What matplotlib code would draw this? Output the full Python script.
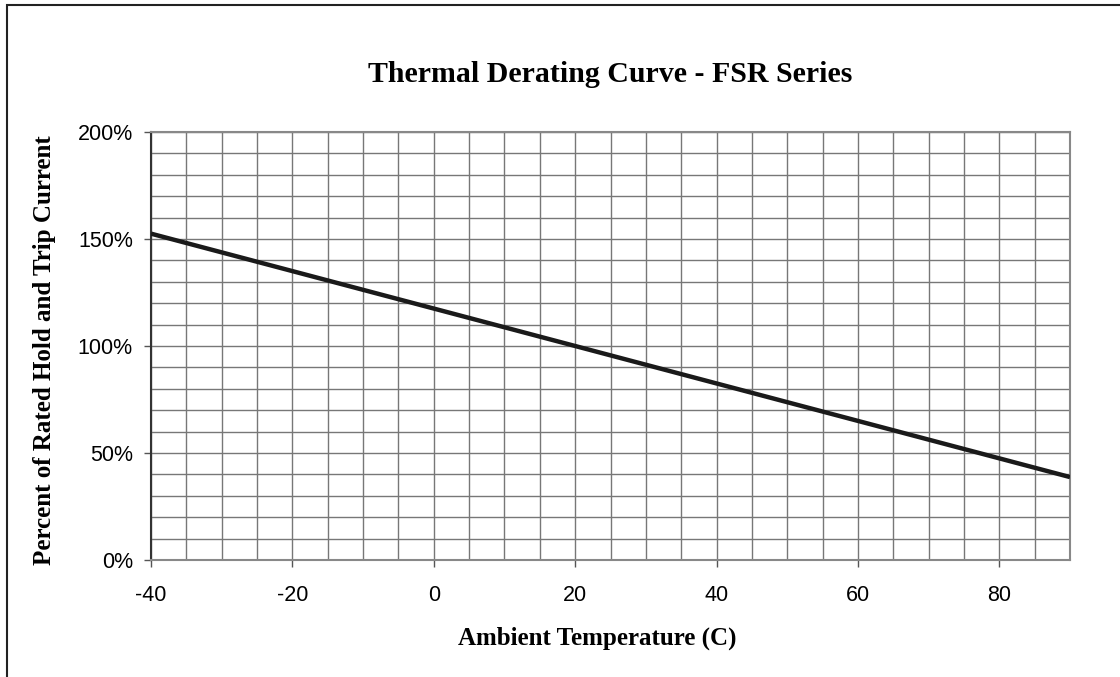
import matplotlib.pyplot as plt
from matplotlib.patches import Rectangle
from matplotlib.ticker import MultipleLocator, FuncFormatter

# derating curve values
temps   = [-40, -20, 0, 20, 40, 60, 80, 90]
percent = [152.5, 135, 117.5, 100, 82.5, 65, 47.5, 38.75]

xticks = [-40, -20, 0, 20, 40, 60, 80]
yticks = [0, 50, 100, 150, 200]

serif = ['Liberation Serif', 'DejaVu Serif']
sans  = ['Liberation Sans', 'DejaVu Sans']

fig = plt.figure(figsize=(11.2, 6.77), dpi=100)
ax  = fig.add_axes([151/1120, 1-560/677, (1070-151)/1120, (560-132)/677])

# outer frame of the chart
fig.patches.append(Rectangle((7/1120, -0.01), 1.05, 1-5/677+0.01, transform=fig.transFigure,
                             fill=False, edgecolor='#222222', linewidth=1.5))

ax.plot(temps, percent, color='#1a1a1a', linewidth=3.2, solid_capstyle='butt', zorder=3)

ax.set_xlim(-40, 90)
ax.set_ylim(0, 200)
ax.set_xticks(xticks)
ax.set_yticks(yticks)
ax.xaxis.set_minor_locator(MultipleLocator(5))
ax.yaxis.set_minor_locator(MultipleLocator(10))
ax.xaxis.set_major_formatter(FuncFormatter(lambda v, p: '%d' % v))
ax.yaxis.set_major_formatter(FuncFormatter(lambda v, p: '%d%%' % v))

ax.grid(True, which='both', color='#777777', linewidth=1.0)
ax.set_axisbelow(True)
ax.tick_params(which='major', direction='out', length=5, width=1, color='#555555',
               labelsize=15.5, pad=8)
ax.tick_params(which='minor', length=0)
for lbl in ax.get_xticklabels() + ax.get_yticklabels():
    lbl.set_family(sans)
ax.tick_params(axis='x', pad=13)

for s in ['top', 'right', 'bottom']:
    ax.spines[s].set_color('#888888')
    ax.spines[s].set_linewidth(1.5)
ax.spines['left'].set_color('#333333')
ax.spines['left'].set_linewidth(1.5)

fig.text(610/1120, 1-75/677, 'Thermal Derating Curve - FSR Series', ha='center', va='center',
         family=serif, fontweight='bold', fontsize=21.5)
fig.text(597/1120, 1-638/677, 'Ambient Temperature (C)', ha='center', va='center',
         family=serif, fontweight='bold', fontsize=18)
fig.text(45/1120, 1-350/677, 'Percent of Rated Hold and Trip Current', ha='center', va='center',
         rotation=90, family=serif, fontweight='bold', fontsize=18)

plt.savefig('out.png', dpi=100)
